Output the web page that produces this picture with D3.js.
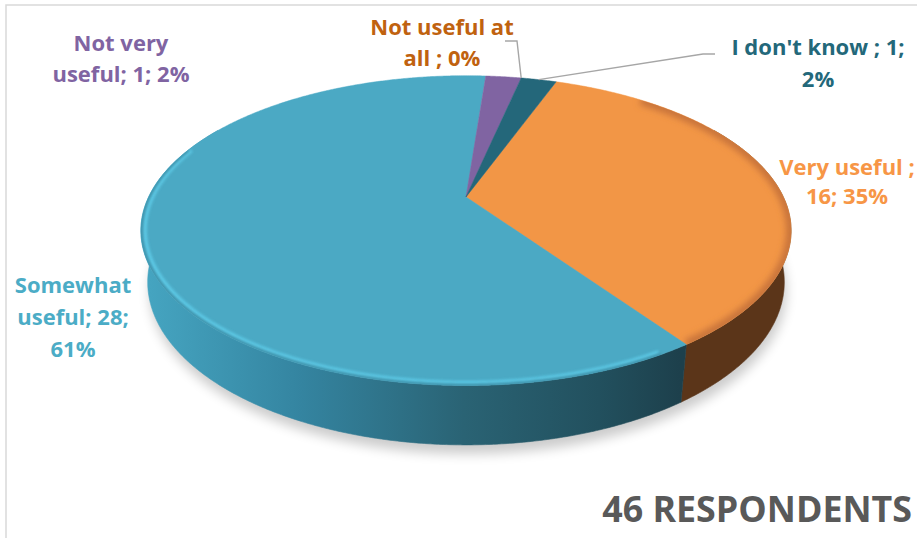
<!DOCTYPE html>
<html>
<head>
<meta charset="utf-8">
<script src="https://cdn.jsdelivr.net/npm/d3@7"></script>
<style>
  html, body { margin: 0; padding: 0; background: #fff; }
  svg { display: block; }
  text { font-family: "Open Sans", Lato, sans-serif; font-weight: 700; }
</style>
</head>
<body>
<svg id="chart" width="917" height="538"></svg>
<script>
// Survey answers, in slice order (clockwise from the first-slice angle)
const categories = ["Very useful", "Somewhat useful", "Not very useful", "Not useful at all", "I don't know"];
const counts = [16, 28, 1, 0, 1];
const topColors = ["#F29646", "#4BA9C4", "#8064A2", "#C0620F", "#24677A"];
const labelColors = ["#F79646", "#4BACC6", "#8064A2", "#C0620F", "#23687A"];
const labelLines = [
  ["Very useful ;", "16; 35%"],
  ["Somewhat", "useful; 28;", "61%"],
  ["Not very", "useful; 1; 2%"],
  ["Not useful at", "all ; 0%"],
  ["I don't know ; 1;", "2%"]
];
const respondentsLabel = "46 RESPONDENTS";
const firstSliceAngle = 20; // degrees

const svg = d3.select("#chart");
const rad = Math.PI / 180;

// --- simple perspective camera for the tilted disc ---
const elev = 28.5 * rad, camDist = 4.13, focal = 1345, focalX = focal * 0.955;
const cx = 466, cy = 247.5, thick = 0.173;
function proj(theta, Y, r = 1) {
  const X = r * Math.sin(theta), Z = -r * Math.cos(theta);
  const ys = Y * Math.cos(elev) - Z * Math.sin(elev);
  const depth = camDist - Y * Math.sin(elev) - Z * Math.cos(elev);
  return [cx + focalX * X / depth, cy - focal * ys / depth];
}
function arcPoints(a0, a1, Y, r = 1) {
  const n = Math.max(2, Math.ceil(Math.abs(a1 - a0) / (0.4 * rad)));
  return d3.range(n + 1).map(i => proj(a0 + (a1 - a0) * i / n, Y, r));
}
const line = d3.line();

const pie = d3.pie().sort(null)
  .startAngle(firstSliceAngle * rad)
  .endAngle(firstSliceAngle * rad + 2 * Math.PI);
const arcs = pie(counts);

const defs = svg.append("defs");
const fShadow = defs.append("filter").attr("id", "shadow")
  .attr("x", "-20%").attr("y", "-20%").attr("width", "140%").attr("height", "140%");
fShadow.append("feGaussianBlur").attr("stdDeviation", 6);
const fSoft = defs.append("filter").attr("id", "soft")
  .attr("x", "-10%").attr("y", "-10%").attr("width", "120%").attr("height", "120%");
fSoft.append("feGaussianBlur").attr("stdDeviation", 1.6);
const fSoft2 = defs.append("filter").attr("id", "soft2")
  .attr("x", "-10%").attr("y", "-10%").attr("width", "120%").attr("height", "120%");
fSoft2.append("feGaussianBlur").attr("stdDeviation", 3);

// side wall gradients
const sideGrad = [
  { id: "side0", stops: [[0, "#6c411f"], [1, "#5b3519"]] },
  { id: "side1", stops: [[0, "#46a6c2"], [0.3, "#3484a0"], [0.6, "#2a6374"], [0.85, "#22505e"], [1, "#1d404c"]] },
  { id: "side2", stops: [[0, "#5d4878"], [1, "#4a3a60"]] },
  { id: "side3", stops: [[0, "#8a470c"], [1, "#8a470c"]] },
  { id: "side4", stops: [[0, "#1b4a58"], [1, "#1b4a58"]] }
];
sideGrad.forEach(g => {
  const lg = defs.append("linearGradient").attr("id", g.id)
    .attr("gradientUnits", "userSpaceOnUse")
    .attr("x1", 140).attr("x2", 680).attr("y1", 0).attr("y2", 0);
  g.stops.forEach(s => lg.append("stop").attr("offset", s[0]).attr("stop-color", s[1]));
});

// chart frame
svg.append("rect").attr("x", 6).attr("y", 5).attr("width", 1000).attr("height", 1000)
  .attr("fill", "none").attr("stroke", "#d9d9d9").attr("stroke-width", 1.5);

// soft drop shadow under the disc
const shadowPts = arcPoints(0, 2 * Math.PI, 0, 1.0).map(p => [p[0] + 2, p[1] + 9]);
svg.append("path").attr("d", line(shadowPts) + "Z")
  .attr("fill", "#000").attr("opacity", 0.2).attr("filter", "url(#shadow)");

// outer walls (front part), drawn before the top faces
const front0 = 60 * rad, front1 = 300 * rad;
arcs.forEach((a, i) => {
  const segs = [];
  for (let k = -1; k <= 1; k++) {
    const s0 = Math.max(a.startAngle, front0 + k * 2 * Math.PI);
    const s1 = Math.min(a.endAngle, front1 + k * 2 * Math.PI);
    if (s1 > s0) segs.push([s0, s1]);
  }
  segs.forEach(([s0, s1]) => {
    const pts = arcPoints(s0, s1, thick).concat(arcPoints(s1, s0, 0));
    svg.append("path").attr("d", line(pts) + "Z")
      .attr("fill", `url(#side${i})`).attr("stroke", `url(#side${i})`).attr("stroke-width", 0.6);
  });
});

// top faces
const apex = proj(0, thick, 0);
arcs.forEach((a, i) => {
  if (a.endAngle - a.startAngle <= 0) return;
  const pts = [apex].concat(arcPoints(a.startAngle, a.endAngle, thick));
  const d = line(pts) + "Z";
  defs.append("clipPath").attr("id", `clip${i}`).append("path").attr("d", d);
  svg.append("path").attr("d", d).attr("fill", topColors[i])
    .attr("stroke", topColors[i]).attr("stroke-width", 0.5);
});

// rim bevel on the top faces
function rim(i, a0, a1, color, width, r, filt, op = 1) {
  const a = arcs[i];
  const s0 = Math.max(a.startAngle, a0), s1 = Math.min(a.endAngle, a1);
  if (s1 <= s0) return;
  svg.append("g").attr("clip-path", `url(#clip${i})`)
    .append("path").attr("d", line(arcPoints(s0, s1, thick, r)))
    .attr("fill", "none").attr("stroke", color).attr("stroke-width", width)
    .attr("filter", filt).attr("opacity", op);
}
rim(0, 40 * rad, 150 * rad, "#c8733a", 10, 1.0, "url(#soft2)");
rim(1, 150 * rad, 290 * rad, "#64d3f0", 3.2, 0.988, "url(#soft)", 0.9);
rim(1, 150 * rad, 290 * rad, "#3d8fa7", 3, 1.0, "url(#soft)");

// leader lines
const lead = d3.line();
const zeroPt = proj(arcs[3].startAngle, thick);
svg.append("path").attr("d", lead([[505, 41], [517, 41], zeroPt]))
  .attr("fill", "none").attr("stroke", "#a6a6a6").attr("stroke-width", 1.4);
const idkMid = (arcs[4].startAngle + arcs[4].endAngle) / 2;
svg.append("path").attr("d", lead([[715, 54], [703, 54], proj(idkMid, thick)]))
  .attr("fill", "none").attr("stroke", "#a6a6a6").attr("stroke-width", 1.4);

// data labels: [center x, first baseline, line spacing]
const labelPos = [
  [847, 175, 29],
  [73, 293, 32],
  [121, 51, 31],
  [442, 35, 31],
  [818, 55, 32]
];
labelLines.forEach((lines, i) => {
  const [x, y, dy] = labelPos[i];
  const t = svg.append("text").attr("text-anchor", "middle")
    .attr("fill", labelColors[i]).attr("font-size", 22);
  lines.forEach((s, j) => t.append("tspan").attr("x", x).attr("y", y + j * dy).text(s));
});

// respondents caption
svg.append("text").attr("x", 912).attr("y", 522).attr("text-anchor", "end")
  .attr("fill", "#595959").attr("font-size", 35.8).text(respondentsLabel);
</script>
</body>
</html>
